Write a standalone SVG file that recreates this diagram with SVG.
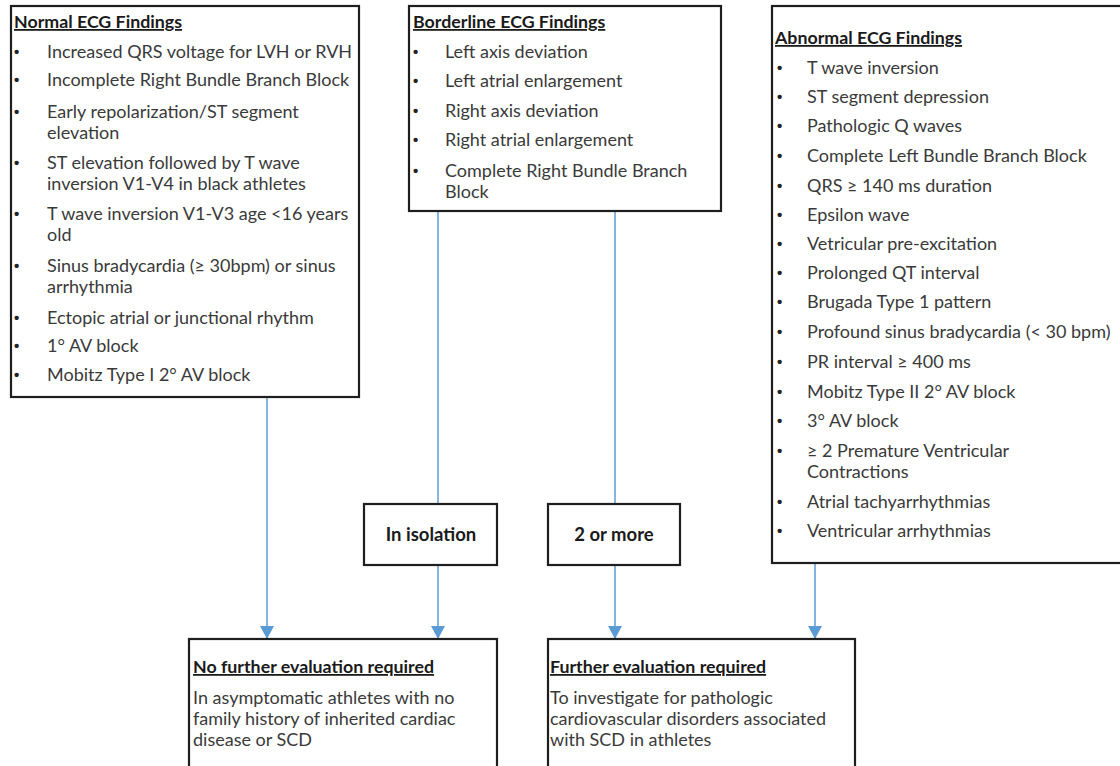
<svg xmlns="http://www.w3.org/2000/svg" width="1120" height="766" viewBox="0 0 1120 766">
<defs>
<marker id="arr" markerUnits="userSpaceOnUse" markerWidth="14" markerHeight="14" viewBox="0 0 14 14" refX="13" refY="7" orient="auto">
<path d="M0,0 L13,7 L0,14 Z" fill="#5b9bd5"/>
</marker>
<style>
.box{fill:#fff;stroke:#1e1e1e;stroke-width:2.2}
.t{font-family:Lato,"Liberation Sans",sans-serif;font-size:18px;fill:#3a3a3a}
.h{font-family:Lato,"Liberation Sans",sans-serif;font-size:17.8px;font-weight:bold;fill:#1a1a1a;text-decoration:underline}
.b{font-family:Lato,"Liberation Sans",sans-serif;font-size:18.5px;font-weight:bold;fill:#1a1a1a}
.bu{font-family:"Liberation Sans",sans-serif;font-size:15px;font-weight:bold;fill:#222}
.c{stroke:#5b9bd5;stroke-width:1.5;fill:none}
</style>
</defs>
<rect width="1120" height="766" fill="#fff"/>

<g id="connectors">
<line class="c" x1="267" y1="397" x2="267" y2="639" marker-end="url(#arr)"/>
<line class="c" x1="438" y1="211" x2="438" y2="504"/>
<line class="c" x1="438" y1="565" x2="438" y2="639" marker-end="url(#arr)"/>
<line class="c" x1="615" y1="211" x2="615" y2="504"/>
<line class="c" x1="615" y1="565" x2="615" y2="639" marker-end="url(#arr)"/>
<line class="c" x1="815" y1="563" x2="815" y2="639" marker-end="url(#arr)"/>
</g>

<g id="normal">
<rect class="box" x="11" y="6" width="348" height="391"/>
<text class="h" x="14" y="28">Normal ECG Findings</text>
<g class="bu">
<text x="14" y="57">•</text><text x="14" y="85">•</text><text x="14" y="117">•</text><text x="14" y="168">•</text>
<text x="14" y="219">•</text><text x="14" y="271">•</text><text x="14" y="323">•</text><text x="14" y="351">•</text><text x="14" y="380">•</text>
</g>
<g class="t">
<text x="47" y="58">Increased QRS voltage for LVH or RVH</text>
<text x="47" y="86">Incomplete Right Bundle Branch Block</text>
<text x="47" y="118">Early repolarization/ST segment</text>
<text x="47" y="139">elevation</text>
<text x="47" y="169">ST elevation followed by T wave</text>
<text x="47" y="190">inversion V1-V4 in black athletes</text>
<text x="47" y="220">T wave inversion V1-V3 age &lt;16 years</text>
<text x="47" y="241">old</text>
<text x="47" y="272">Sinus bradycardia (≥ 30bpm) or sinus</text>
<text x="47" y="293">arrhythmia</text>
<text x="47" y="324">Ectopic atrial or junctional rhythm</text>
<text x="47" y="352">1° AV block</text>
<text x="47" y="381">Mobitz Type I 2° AV block</text>
</g>
</g>

<g id="borderline">
<rect class="box" x="409" y="6" width="312" height="205"/>
<text class="h" x="413" y="28">Borderline ECG Findings</text>
<g class="bu">
<text x="413" y="57">•</text><text x="413" y="86">•</text><text x="413" y="116">•</text><text x="413" y="145">•</text><text x="413" y="176">•</text>
</g>
<g class="t">
<text x="445" y="58">Left axis deviation</text>
<text x="445" y="87">Left atrial enlargement</text>
<text x="445" y="117">Right axis deviation</text>
<text x="445" y="146">Right atrial enlargement</text>
<text x="445" y="177">Complete Right Bundle Branch</text>
<text x="445" y="198">Block</text>
</g>
</g>

<g id="abnormal">
<rect class="box" x="772" y="6" width="360" height="557"/>
<text class="h" x="775" y="44">Abnormal ECG Findings</text>
<g class="bu">
<text x="777" y="73">•</text><text x="777" y="102">•</text><text x="777" y="131">•</text><text x="777" y="161">•</text><text x="777" y="191">•</text>
<text x="777" y="220">•</text><text x="777" y="249">•</text><text x="777" y="278">•</text><text x="777" y="307">•</text><text x="777" y="337">•</text>
<text x="777" y="367">•</text><text x="777" y="397">•</text><text x="777" y="426">•</text><text x="777" y="456">•</text><text x="777" y="507">•</text><text x="777" y="536">•</text>
</g>
<g class="t">
<text x="807" y="74">T wave inversion</text>
<text x="807" y="103">ST segment depression</text>
<text x="807" y="132">Pathologic Q waves</text>
<text x="807" y="162">Complete Left Bundle Branch Block</text>
<text x="807" y="192">QRS ≥ 140 ms duration</text>
<text x="807" y="221">Epsilon wave</text>
<text x="807" y="250">Vetricular pre-excitation</text>
<text x="807" y="279">Prolonged QT interval</text>
<text x="807" y="308">Brugada Type 1 pattern</text>
<text x="807" y="338">Profound sinus bradycardia (&lt; 30 bpm)</text>
<text x="807" y="368">PR interval ≥ 400 ms</text>
<text x="807" y="398">Mobitz Type II 2° AV block</text>
<text x="807" y="427">3° AV block</text>
<text x="807" y="457">≥ 2 Premature Ventricular</text>
<text x="807" y="478">Contractions</text>
<text x="807" y="508">Atrial tachyarrhythmias</text>
<text x="807" y="537">Ventricular arrhythmias</text>
</g>
</g>

<g id="isolation">
<rect class="box" x="364" y="504" width="133" height="61"/>
<text class="b" x="431" y="541" text-anchor="middle">In isolation</text>
</g>

<g id="twoormore">
<rect class="box" x="548" y="504" width="132" height="61"/>
<text class="b" x="614" y="541" text-anchor="middle">2 or more</text>
</g>

<g id="nofurther">
<rect class="box" x="189" y="639" width="308" height="140"/>
<text class="h" x="193" y="673">No further evaluation required</text>
<g class="t">
<text x="193" y="704">In asymptomatic athletes with no</text>
<text x="193" y="725">family history of inherited cardiac</text>
<text x="193" y="746">disease or SCD</text>
</g>
</g>

<g id="further">
<rect class="box" x="548" y="639" width="307" height="140"/>
<text class="h" x="550" y="673">Further evaluation required</text>
<g class="t">
<text x="550" y="704">To investigate for pathologic</text>
<text x="550" y="725">cardiovascular disorders associated</text>
<text x="550" y="746">with SCD in athletes</text>
</g>
</g>
</svg>
